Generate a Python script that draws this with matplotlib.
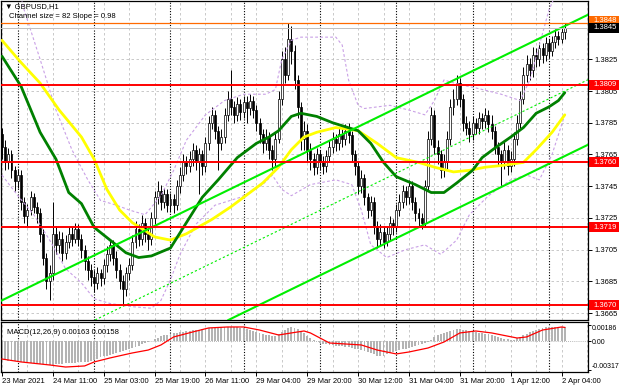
import matplotlib
matplotlib.use("Agg")
import matplotlib.pyplot as plt
import matplotlib.transforms as mtransforms
from matplotlib.patches import Rectangle
import numpy as np

plt.rcParams['font.family'] = ['Liberation Sans', 'DejaVu Sans']
plt.rcParams['font.size'] = 5.5

# ---- hourly candles, GBPUSD H1 (23 Mar 19:00 .. 2 Apr 05:00) ----
first_open = 1.3778
closes = [1.3770, 1.3760, 1.3765, 1.3755, 1.3748, 1.3752, 1.3735, 1.3726, 1.3730, 1.3738,
          1.3732, 1.3728, 1.3715, 1.3700, 1.3685, 1.3690, 1.3715, 1.3708, 1.3712, 1.3703,
          1.3710, 1.3715, 1.3712, 1.3718, 1.3712, 1.3705, 1.3698, 1.3692, 1.3688, 1.3684,
          1.3690, 1.3687, 1.3695, 1.3702, 1.3708, 1.3700, 1.3692, 1.3685, 1.3680, 1.3690,
          1.3695, 1.3710, 1.3718, 1.3712, 1.3722, 1.3715, 1.3712, 1.3725, 1.3738, 1.3742,
          1.3735, 1.3740, 1.3733, 1.3737, 1.3733, 1.3745, 1.3752, 1.3760, 1.3758, 1.3762,
          1.3768, 1.3760, 1.3765, 1.3758, 1.3772, 1.3785, 1.3790, 1.3780, 1.3772, 1.3776,
          1.3790, 1.3800, 1.3795, 1.3790, 1.3797, 1.3792, 1.3798, 1.3794, 1.3799,
          1.3793, 1.3785, 1.3778, 1.3772, 1.3776, 1.3768, 1.3762, 1.3775, 1.3800, 1.3825,
          1.3815, 1.3838, 1.3830, 1.3812, 1.3795, 1.3775, 1.3780, 1.3768, 1.3762, 1.3757,
          1.3765, 1.3760, 1.3758, 1.3764, 1.3770, 1.3775, 1.3772, 1.3778, 1.3775, 1.3780,
          1.3777, 1.3765, 1.3758, 1.3745, 1.3750, 1.3738, 1.3730, 1.3735, 1.3720, 1.3712,
          1.3716, 1.3710, 1.3715, 1.3722, 1.3720, 1.3730, 1.3735, 1.3742, 1.3738,
          1.3745, 1.3735, 1.3728, 1.3725, 1.3722, 1.3745, 1.3775, 1.3790, 1.3770, 1.3765,
          1.3755, 1.3760, 1.3775, 1.3795, 1.3800, 1.3810, 1.3800, 1.3785, 1.3782, 1.3778,
          1.3785, 1.3782, 1.3788, 1.3786, 1.3790, 1.3784, 1.3780, 1.3770, 1.3765,
          1.3760, 1.3768, 1.3758, 1.3762, 1.3775, 1.3785, 1.3800, 1.3815, 1.3822, 1.3818,
          1.3828, 1.3825, 1.3832, 1.3828, 1.3835, 1.3830, 1.3836, 1.3840, 1.3838, 1.3842, 1.3845]
highs = [1.3782, 1.3774, 1.3769, 1.3768, 1.3758, 1.3756, 1.3755, 1.3738, 1.3734, 1.3742,
         1.3741, 1.3735, 1.3731, 1.3718, 1.3703, 1.3695, 1.3735, 1.3720, 1.3717, 1.3716,
         1.3714, 1.3720, 1.3719, 1.3722, 1.3721, 1.3715, 1.3708, 1.3701, 1.3696, 1.3692,
         1.3694, 1.3693, 1.3699, 1.3707, 1.3712, 1.3711, 1.3704, 1.3696, 1.3689, 1.3694,
         1.3700, 1.3714, 1.3723, 1.3721, 1.3727, 1.3725, 1.3718, 1.3729, 1.3742, 1.3748,
         1.3746, 1.3744, 1.3743, 1.3741, 1.3740, 1.3749, 1.3757, 1.3765, 1.3764, 1.3767,
         1.3772, 1.3771, 1.3769, 1.3768, 1.3776, 1.3789, 1.3795, 1.3793, 1.3783, 1.3781,
         1.3794, 1.3805, 1.3818, 1.3799, 1.3801, 1.3800, 1.3802, 1.3802, 1.3803,
         1.3802, 1.3796, 1.3788, 1.3781, 1.3781, 1.3779, 1.3771, 1.3779, 1.3805, 1.3830,
         1.3833, 1.3848, 1.3846, 1.3834, 1.3815, 1.3798, 1.3786, 1.3784, 1.3772, 1.3766,
         1.3769, 1.3768, 1.3764, 1.3768, 1.3774, 1.3779, 1.3778, 1.3782, 1.3781, 1.3784,
         1.3785, 1.3780, 1.3768, 1.3761, 1.3755, 1.3753, 1.3741, 1.3739, 1.3738, 1.3723,
         1.3721, 1.3719, 1.3719, 1.3726, 1.3724, 1.3734, 1.3740, 1.3746, 1.3745,
         1.3749, 1.3748, 1.3738, 1.3731, 1.3728, 1.3749, 1.3780, 1.3795, 1.3793, 1.3774,
         1.3768, 1.3765, 1.3780, 1.3800, 1.3806, 1.3815, 1.3813, 1.3803, 1.3789, 1.3786,
         1.3789, 1.3788, 1.3792, 1.3791, 1.3794, 1.3793, 1.3790, 1.3783, 1.3773,
         1.3768, 1.3773, 1.3771, 1.3767, 1.3779, 1.3790, 1.3805, 1.3820, 1.3828, 1.3826,
         1.3833, 1.3832, 1.3836, 1.3835, 1.3839, 1.3838, 1.3840, 1.3844, 1.3843, 1.3846, 1.3848]
lows = [1.3762, 1.3755, 1.3756, 1.3750, 1.3742, 1.3744, 1.3730, 1.3722, 1.3720, 1.3727,
        1.3728, 1.3722, 1.3710, 1.3695, 1.3680, 1.3673, 1.3686, 1.3702, 1.3703, 1.3698,
        1.3699, 1.3706, 1.3707, 1.3709, 1.3707, 1.3700, 1.3692, 1.3686, 1.3682, 1.3678,
        1.3680, 1.3682, 1.3683, 1.3691, 1.3698, 1.3695, 1.3687, 1.3680, 1.3670, 1.3676,
        1.3686, 1.3692, 1.3706, 1.3707, 1.3708, 1.3710, 1.3705, 1.3708, 1.3721, 1.3734,
        1.3730, 1.3731, 1.3729, 1.3729, 1.3728, 1.3730, 1.3741, 1.3748, 1.3753, 1.3754,
        1.3758, 1.3755, 1.3740, 1.3752, 1.3754, 1.3768, 1.3781, 1.3775, 1.3755, 1.3768,
        1.3772, 1.3786, 1.3790, 1.3785, 1.3786, 1.3787, 1.3788, 1.3785, 1.3790,
        1.3788, 1.3780, 1.3772, 1.3766, 1.3768, 1.3762, 1.3755, 1.3758, 1.3772, 1.3796,
        1.3810, 1.3812, 1.3822, 1.3806, 1.3788, 1.3768, 1.3768, 1.3760, 1.3755, 1.3752,
        1.3753, 1.3755, 1.3753, 1.3754, 1.3760, 1.3766, 1.3767, 1.3768, 1.3770, 1.3771,
        1.3772, 1.3760, 1.3752, 1.3740, 1.3741, 1.3733, 1.3725, 1.3726, 1.3715, 1.3706,
        1.3708, 1.3706, 1.3707, 1.3711, 1.3714, 1.3716, 1.3726, 1.3731, 1.3733,
        1.3734, 1.3730, 1.3723, 1.3720, 1.3718, 1.3719, 1.3742, 1.3771, 1.3765, 1.3759,
        1.3750, 1.3751, 1.3756, 1.3771, 1.3790, 1.3796, 1.3795, 1.3780, 1.3777, 1.3773,
        1.3774, 1.3778, 1.3778, 1.3781, 1.3782, 1.3779, 1.3775, 1.3765, 1.3758,
        1.3745, 1.3756, 1.3752, 1.3754, 1.3758, 1.3771, 1.3782, 1.3797, 1.3811, 1.3812,
        1.3814, 1.3820, 1.3821, 1.3823, 1.3824, 1.3826, 1.3827, 1.3832, 1.3834, 1.3835, 1.3838]
opens = [first_open] + closes[:-1]

# ---- moving averages ----
ma_green_bars = [0, 6, 12, 17, 21, 25, 29, 34, 39, 43, 47, 53, 58, 63, 68, 74, 80, 84, 87, 91,
                 94, 99, 104, 112, 116, 120, 124, 130, 135, 139, 143, 148, 151, 155, 160, 164,
                 168, 172, 175, 177]
ma_green_vals = [1.3827, 1.3808, 1.3779, 1.3762, 1.3741, 1.3734, 1.3719, 1.3711, 1.3703, 1.3700,
                 1.3701, 1.3706, 1.3722, 1.3738, 1.3749, 1.3763, 1.3772, 1.3776, 1.3780, 1.3789,
                 1.3791, 1.3789, 1.3785, 1.3780, 1.3772, 1.3760, 1.3751, 1.3746, 1.3741, 1.3741,
                 1.3747, 1.3755, 1.3763, 1.3769, 1.3776, 1.3782, 1.3791, 1.3795, 1.3799, 1.3804]
ma_yellow_bars = [0, 6, 12, 18, 25, 29, 33, 37, 41, 45, 48, 53, 58, 66, 72, 76, 82, 87, 91, 95,
                  99, 105, 112, 118, 124, 131, 136, 142, 147, 152, 157, 164, 168, 173, 177]
ma_yellow_vals = [1.3837, 1.3823, 1.3810, 1.3793, 1.3776, 1.3762, 1.3743, 1.3730, 1.3722, 1.3717,
                  1.3713, 1.3711, 1.3715, 1.3724, 1.3732, 1.3738, 1.3747, 1.3757, 1.3768, 1.3776,
                  1.3779, 1.3782, 1.3780, 1.3772, 1.3763, 1.3760, 1.3757, 1.3754, 1.3755, 1.3757,
                  1.3758, 1.3760, 1.3768, 1.3779, 1.3790]

# ---- bollinger bands ----
bb_up_bars = [3, 7, 12, 17, 22, 27, 31, 36, 40, 45, 50, 54, 58, 64, 70, 76, 83, 86, 88, 91,
              94, 105, 107, 109, 112, 114, 122, 128, 133, 136, 139, 144, 149, 157, 163, 166,
              169, 172, 175]
bb_up_vals = [1.3890, 1.3856, 1.3825, 1.3793, 1.3768, 1.3749, 1.3736, 1.3733, 1.3730, 1.3727,
              1.3739, 1.3755, 1.3774, 1.3790, 1.3799, 1.3803, 1.3803, 1.3806, 1.3825, 1.3837,
              1.3839, 1.3839, 1.3834, 1.3812, 1.3796, 1.3794, 1.3796, 1.3793, 1.3790, 1.3799,
              1.3812, 1.3809, 1.3807, 1.3803, 1.3799, 1.3812, 1.3834, 1.3856, 1.3870]
bb_lo_bars = [0, 5, 10, 15, 20, 25, 29, 34, 41, 47, 50, 53, 56, 61, 67, 75, 82, 85, 88, 91,
              97, 105, 110, 113, 116, 121, 127, 133, 138, 143, 147, 153, 160, 165, 169, 173, 177]
bb_lo_vals = [1.3752, 1.3739, 1.3727, 1.3711, 1.3693, 1.3684, 1.3674, 1.3671, 1.3669, 1.3668,
              1.3673, 1.3686, 1.3702, 1.3721, 1.3733, 1.3738, 1.3746, 1.3752, 1.3743, 1.3739,
              1.3746, 1.3749, 1.3746, 1.3730, 1.3708, 1.3700, 1.3705, 1.3708, 1.3702, 1.3711,
              1.3727, 1.3739, 1.3749, 1.3752, 1.3749, 1.3765, 1.3790]

# ---- MACD(12,26,9), values in 1e-5 ----
macd_hist = [-208, -211, -214, -218, -221, -225, -228, -233, -237, -242,
             -246, -250, -254, -258, -262, -264, -262, -258, -255, -250,
             -246, -242, -240, -238, -235, -236, -234, -230, -220, -208,
             -192, -180, -168, -158, -148, -138, -129, -118, -108, -96,
             -84, -73, -60, -46, -32, -18, -6, 10, 25, 42,
             60, 70, 78, 86, 94, 100, 107, 112, 116, 120,
             126, 130, 134, 140, 144, 148, 152, 155, 157, 160,
             162, 163, 164, 163, 162, 156, 148, 138, 129, 118,
             105, 92, 80, 73, 68, 64, 62, 85, 110, 130,
             150, 163, 155, 140, 115, 90, 60, 35, 15, 0,
             -17, -25, -32, -39, -45, -48, -52, -55, -58, -62,
             -70, -80, -90, -100, -110, -118, -130, -145, -158, -163,
             -158, -145, -130, -118, -108, -100, -90, -80, -73, -62,
             -50, -40, -28, -15, -6, 20, 50, 70, 85, 96,
             108, 120, 132, 140, 138, 132, 125, 118, 112, 106,
             100, 96, 88, 80, 70, 60, 51, 42, 32, 24,
             17, 22, 35, 51, 70, 88, 105, 118, 129, 140,
             150, 158, 163, 165, 166, 165, 164, 163]
signal_bars = [0, 6, 15, 20, 26, 29, 34, 41, 46, 50, 54, 60, 65, 71, 76, 81, 87, 91, 95, 97,
               103, 113, 118, 124, 128, 134, 139, 144, 149, 154, 162, 165, 170, 176, 177]
signal_vals = [-197, -230, -264, -287, -275, -230, -185, -129, -96, -39, 51, 107, 152, 163, 163,
               129, 73, 96, 118, 96, -17, -39, -96, -140, -118, -73, -6, 96, 118, 96, 39, 51,
               129, 163, 158]

# ---- levels, channel, time axis ----
red_levels = [1.3809, 1.3760, 1.3719, 1.3670]
orange_level = 1.3848
last_price = 1.3845
chan_bars = [0, 177]
chan_upper = [1.3673, 1.3846]
chan_size = 0.0082
time_labels = ["23 Mar 2021", "24 Mar 11:00", "25 Mar 03:00", "25 Mar 19:00", "26 Mar 11:00",
               "29 Mar 04:00", "29 Mar 20:00", "30 Mar 12:00", "31 Mar 04:00", "31 Mar 20:00",
               "1 Apr 12:00", "2 Apr 04:00"]
day_starts = [5, 29, 53, 76, 100, 124, 148, 172]
price_ticks = [1.3665, 1.3685, 1.3705, 1.3725, 1.3745, 1.3765, 1.3785, 1.3805, 1.3825, 1.3845]

n = len(closes)
x = np.arange(n)
o = np.array(opens)
c = np.array(closes)

fig = plt.figure(figsize=(6.2, 3.88), dpi=100)
ax = fig.add_axes([1 / 620, 68 / 388, 587 / 620, 319 / 388])
ax2 = fig.add_axes([1 / 620, 16 / 388, 587 / 620, 50 / 388])
xmin, xmax = -0.3, 184.3
for a in (ax, ax2):
    a.set_xlim(xmin, xmax)
    for s in a.spines.values():
        s.set_color("black")
        s.set_linewidth(0.9)
    for v in range(0, 185, 8):
        a.axvline(v, color="#c0c0c0", lw=0.6, dashes=(3, 3), zorder=0.5)
    for d in day_starts:
        a.axvline(d, color="black", lw=0.8, dashes=(1, 1.5), zorder=0.6)

ax.set_ylim(1.36606, 1.38618)
for p in price_ticks:
    ax.axhline(p, color="#c0c0c0", lw=0.6, dashes=(3, 3), zorder=0.5)

# candles
ax.vlines(x, lows, highs, color="black", lw=0.7, zorder=2)
body_lo = np.minimum(o, c)
body_h = np.maximum(np.abs(c - o), 0.00003)
fc = np.where(c >= o, "white", "black")
ax.bar(x, body_h, bottom=body_lo, width=0.62, color=fc, edgecolor="black",
       linewidth=0.5, zorder=2.2)

# indicators
ax.plot(bb_up_bars, bb_up_vals, color="#c9a0e6", lw=0.8, dashes=(2.5, 2), zorder=3)
ax.plot(bb_lo_bars, bb_lo_vals, color="#c9a0e6", lw=0.8, dashes=(2.5, 2), zorder=3)
ax.plot(ma_yellow_bars, ma_yellow_vals, color="#ffff00", lw=2.0, zorder=3.5,
        solid_capstyle="round")
ax.plot(ma_green_bars, ma_green_vals, color="#008000", lw=2.0, zorder=3.6,
        solid_capstyle="round")

# channel
p1 = (chan_bars[0], chan_upper[0])
p2 = (chan_bars[1], chan_upper[1])
ax.axline(p1, p2, color="#00ee00", lw=1.5, zorder=4)
ax.axline((p1[0], p1[1] - chan_size), (p2[0], p2[1] - chan_size), color="#00ee00", lw=1.5, zorder=4)
ax.axline((p1[0], p1[1] - chan_size / 2), (p2[0], p2[1] - chan_size / 2), color="#00ee00",
          lw=0.8, dashes=(2, 2), zorder=4)

# horizontal levels
for lv in red_levels:
    ax.axhline(lv, color="#ff0000", lw=1.4, zorder=4.2)
ax.axhline(orange_level, color="#ff6a00", lw=0.9, zorder=4.2)
ax.axhline(last_price, color="#c0c0c0", lw=0.7, zorder=4.1)

# right price scale
ax.yaxis.tick_right()
ax.set_yticks(price_ticks)
ax.set_yticklabels(["%.4f" % p for p in price_ticks])
ax.tick_params(axis="y", length=3, width=0.7, pad=2, labelsize=5.5, colors="black")
ax.tick_params(axis="x", bottom=False, labelbottom=False)

trans = mtransforms.blended_transform_factory(ax.transAxes, ax.transData)
dpp = (1.38618 - 1.36606) / 319.0
boxes = [(orange_level + 0.00012, orange_level, "#ff6a00")] + \
        [(lv, lv, "#ff0000") for lv in red_levels] + [(last_price, last_price, "black")]
for ypos, lv, col in boxes:
    ax.add_patch(Rectangle((1.0 + 1 / 587, ypos - 5 * dpp), 30 / 587, 10 * dpp, transform=trans,
                           facecolor=col, edgecolor="none", clip_on=False, zorder=10))
    ax.text(1.0 + 5 / 587, ypos, "%.4f" % lv, transform=trans, color="white", fontsize=5.5,
            va="center", ha="left", clip_on=False, zorder=11)

ax.text(4 / 587, 1 - 6 / 319, "\u25bc GBPUSD,H1", transform=ax.transAxes, fontsize=5.5,
        va="center", ha="left", zorder=12)
ax.text(8 / 587, 1 - 16 / 319, "Channel size = 82 Slope = 0.98", transform=ax.transAxes,
        fontsize=5.5, va="center", ha="left", zorder=12)

# MACD panel
hist = np.array(macd_hist) * 1e-5
ax2.bar(x, hist, width=0.6, color="#b4b4b4", linewidth=0, zorder=2)
ax2.plot(signal_bars, np.array(signal_vals) * 1e-5, color="#ff0000", lw=0.9, zorder=3)
ax2.axhline(0, color="#a0a0a0", lw=0.6, dashes=(1, 1.5), zorder=1)
ax2.set_ylim(-0.00343, 0.00219)
ax2.yaxis.tick_right()
ax2.set_yticks([0.00186, 0.0, -0.00317])
ax2.set_yticklabels(["0.00186", "0.00", "-0.00317"])
ax2.tick_params(axis="y", length=2, width=0.7, pad=1, labelsize=5.0)
yl = ax2.get_yticklabels()
yl[0].set_va("top")
yl[2].set_va("bottom")
ax2.text(6 / 587, 0.78, "MACD(12,26,9) 0.00163 0.00158", transform=ax2.transAxes,
         fontsize=5.5, va="center", ha="left")
ax2.set_xticks(range(0, n, 16))
ax2.set_xticklabels(time_labels, ha="left")
ax2.tick_params(axis="x", length=3, width=0.7, pad=1.0, labelsize=5.5)

fig.savefig("out.png", dpi=100)
